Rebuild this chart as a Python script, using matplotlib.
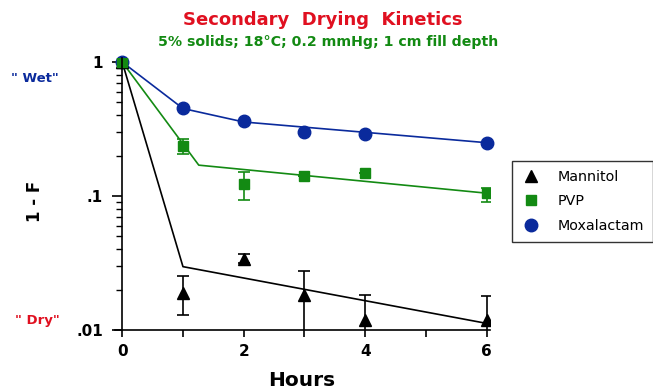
import matplotlib
matplotlib.use("Agg")
import matplotlib.pyplot as plt
from matplotlib.lines import Line2D

plt.rcParams["font.family"] = ["DejaVu Sans"]

# hours
hours_mox = [0, 1, 2, 3, 4, 6]
mox = [1.0, 0.454, 0.363, 0.30, 0.29, 0.249]

hours_pvp = [0, 1, 2, 3, 4, 6]
pvp = [1.0, 0.236, 0.124, 0.142, 0.149, 0.105]
pvp_lo = [1.0, 0.205, 0.093, 0.142, 0.149, 0.091]
pvp_hi = [1.0, 0.266, 0.152, 0.142, 0.149, 0.114]

hours_man = [0, 1, 2, 3, 4, 6]
man = [1.0, 0.019, 0.0339, 0.0182, 0.0119, 0.0118]
man_lo = [1.0, 0.0129, 0.0315, 0.008, 0.008, 0.008]
man_hi = [1.0, 0.0254, 0.0369, 0.0275, 0.0182, 0.018]

# fitted lines
fit_mox_x = [0, 1, 2, 6]
fit_mox_y = [1.0, 0.45, 0.357, 0.25]
fit_pvp_x = [0, 1.26, 6]
fit_pvp_y = [1.0, 0.170, 0.105]
fit_man_x = [0, 1, 6]
fit_man_y = [1.0, 0.0297, 0.0112]

blue = "#0a2a9c"
green = "#138a13"
red = "#e01020"

fig = plt.figure(figsize=(6.53, 3.89), dpi=100)
ax = fig.add_axes([0.176, 0.1517, 0.574, 0.7003])

ax.plot(fit_man_x, fit_man_y, color="black", lw=1.2)
ax.plot(fit_pvp_x, fit_pvp_y, color=green, lw=1.2)
ax.plot(fit_mox_x, fit_mox_y, color=blue, lw=1.2)

def yerr(v, lo, hi):
    return [[a - b for a, b in zip(v, lo)], [b - a for a, b in zip(v, hi)]]

ax.errorbar(hours_man, man, yerr=yerr(man, man_lo, man_hi), fmt="^", color="black",
            ms=9, capsize=4, elinewidth=1.2, capthick=1.2)
ax.errorbar(hours_pvp, pvp, yerr=yerr(pvp, pvp_lo, pvp_hi), fmt="s", color=green,
            ms=7, capsize=4, elinewidth=1.2, capthick=1.2)
ax.plot(hours_mox, mox, "o", color=blue, ms=9, clip_on=False)

ax.set_yscale("log")
ax.set_ylim(0.01, 1.08)
ax.set_xlim(-0.12, 6.05)
ax.spines["top"].set_visible(False)
ax.spines["right"].set_visible(False)
ax.spines["left"].set_position(("data", 0))
ax.spines["left"].set_linewidth(1.2)
ax.spines["bottom"].set_linewidth(1.2)

ax.set_xticks([0, 1, 2, 3, 4, 5, 6])
ax.set_xticklabels(["0", "", "2", "", "4", "", "6"], fontweight="bold", fontsize=11)
ax.set_yticks([0.01, 0.1, 1])
ax.set_yticklabels([".01", ".1", "1"], fontweight="bold", fontsize=11)
ax.tick_params(axis="x", length=5, width=1.2, direction="out", pad=5)
ax.tick_params(axis="y", which="major", length=7, width=1.2, direction="out", pad=7)
ax.tick_params(axis="y", which="minor", length=4, width=1.0, direction="out", labelleft=False)

fig.text(0.054, 0.483, "1 - F", rotation=90, fontsize=12, fontweight="bold", ha="center", va="center")
fig.text(0.462, 0.023, "Hours", fontsize=14.5, fontweight="bold", ha="center", va="center")
fig.text(0.054, 0.797, '" Wet"', color=blue, fontsize=9.5, fontweight="bold", ha="center", va="center")
fig.text(0.057, 0.177, '" Dry"', color=red, fontsize=9.5, fontweight="bold", ha="center", va="center")

fig.text(0.494, 0.948, "Secondary  Drying  Kinetics", color=red, fontsize=13,
         fontweight="bold", ha="center", va="center")
fig.text(0.502, 0.893, "5% solids; 18°C; 0.2 mmHg; 1 cm fill depth", color=green, fontsize=10.2,
         fontweight="bold", ha="center", va="center")

handles = [
    Line2D([], [], ls="none", marker="^", color="black", ms=8),
    Line2D([], [], ls="none", marker="s", color=green, ms=6.5),
    Line2D([], [], ls="none", marker="o", color=blue, ms=9),
]
labels = ["Mannitol", "PVP", "Moxalactam"]
leg = fig.legend(handles, labels, loc="upper left", bbox_to_anchor=(0.784, 0.586),
                 borderaxespad=0, frameon=True, fancybox=False, edgecolor="black",
                 fontsize=10.3, handlelength=1.5, handletextpad=1.1, borderpad=0.6,
                 labelspacing=0.75)
leg.get_frame().set_linewidth(1.0)

fig.savefig("out.png", dpi=100)
